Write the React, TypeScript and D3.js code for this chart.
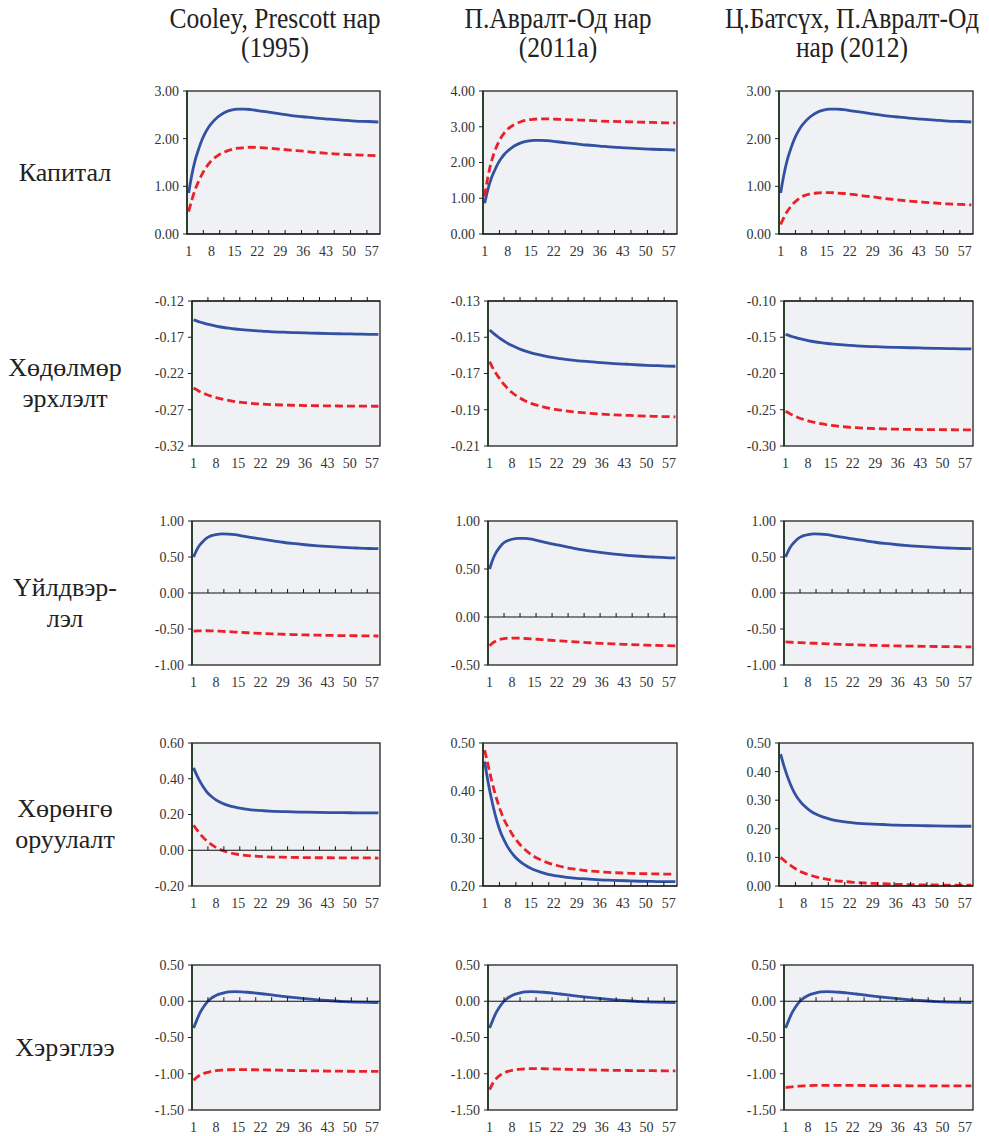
import React from "react";
import * as d3 from "d3";

const periods = [1, 2, 3, 4, 5, 6, 7, 8, 10, 12, 14, 16, 18, 20, 23, 26, 29, 32, 36, 40, 44, 48, 52, 56, 59];
const xLabels = [1, 8, 15, 22, 29, 36, 43, 50, 57];
const nPeriods = 59;

const columnTitles = [
  ["Cooley, Prescott нар", "(1995)"],
  ["П.Авралт-Од нар", "(2011а)"],
  ["Ц.Батсүх, П.Авралт-Од", "нар (2012)"],
];
const rowTitles = [["Капитал"], ["Хөдөлмөр", "эрхлэлт"], ["Үйлдвэр-", "лэл"], ["Хөрөнгө", "оруулалт"], ["Хэрэглээ"]];

// blue (shared reference) series per row
const blueCapital = [0.86, 1.25, 1.55, 1.77, 1.96, 2.11, 2.23, 2.32, 2.46, 2.55, 2.6, 2.62, 2.62, 2.61, 2.58, 2.55, 2.52, 2.49, 2.46, 2.43, 2.41, 2.39, 2.37, 2.36, 2.35];
const blueLabor = [-0.146, -0.1475, -0.149, -0.1503, -0.1515, -0.1527, -0.1537, -0.1546, -0.1562, -0.1575, -0.1586, -0.1595, -0.1603, -0.161, -0.1618, -0.1625, -0.163, -0.1635, -0.164, -0.1645, -0.1649, -0.1653, -0.1656, -0.1659, -0.166];
const blueOutput = [0.5, 0.6, 0.67, 0.72, 0.76, 0.785, 0.8, 0.81, 0.82, 0.818, 0.81, 0.795, 0.78, 0.765, 0.745, 0.725, 0.705, 0.688, 0.67, 0.655, 0.643, 0.633, 0.625, 0.618, 0.615];
const blueInvest = [0.461, 0.42, 0.385, 0.355, 0.33, 0.31, 0.295, 0.282, 0.263, 0.25, 0.241, 0.234, 0.229, 0.225, 0.221, 0.218, 0.216, 0.215, 0.213, 0.212, 0.211, 0.21, 0.2095, 0.209, 0.209];
const blueConsume = [-0.37, -0.26, -0.16, -0.085, -0.025, 0.02, 0.055, 0.08, 0.11, 0.128, 0.133, 0.13, 0.124, 0.115, 0.1, 0.084, 0.068, 0.053, 0.035, 0.02, 0.007, -0.004, -0.011, -0.016, -0.019];

// red series per panel
const redCapital1 = [0.47, 0.72, 0.93, 1.1, 1.24, 1.36, 1.46, 1.54, 1.65, 1.72, 1.77, 1.8, 1.81, 1.82, 1.81, 1.8, 1.78, 1.76, 1.74, 1.71, 1.69, 1.67, 1.66, 1.65, 1.64];
const redCapital2 = [1.05, 1.6, 2.0, 2.3, 2.52, 2.7, 2.83, 2.93, 3.06, 3.14, 3.19, 3.21, 3.22, 3.22, 3.21, 3.2, 3.19, 3.18, 3.16, 3.15, 3.14, 3.13, 3.12, 3.11, 3.11];
const redCapital3 = [0.2, 0.35, 0.47, 0.57, 0.65, 0.71, 0.76, 0.8, 0.84, 0.86, 0.87, 0.87, 0.86, 0.85, 0.83, 0.8, 0.78, 0.75, 0.72, 0.69, 0.67, 0.65, 0.63, 0.62, 0.61];
const redLabor1 = [-0.24, -0.2425, -0.245, -0.247, -0.249, -0.2505, -0.252, -0.2533, -0.2555, -0.2572, -0.2587, -0.2598, -0.2607, -0.2615, -0.2623, -0.263, -0.2635, -0.2638, -0.2642, -0.2645, -0.2647, -0.2649, -0.265, -0.2651, -0.2652];
const redLabor2 = [-0.1635, -0.167, -0.17, -0.1725, -0.175, -0.177, -0.179, -0.1805, -0.183, -0.185, -0.1865, -0.1876, -0.1885, -0.1893, -0.1902, -0.1909, -0.1915, -0.1919, -0.1924, -0.1928, -0.1931, -0.1934, -0.1936, -0.1938, -0.1939];
const redLabor3 = [-0.252, -0.2545, -0.257, -0.259, -0.261, -0.2625, -0.264, -0.2653, -0.2675, -0.2693, -0.2708, -0.272, -0.273, -0.2738, -0.2747, -0.2754, -0.276, -0.2764, -0.2768, -0.2771, -0.2773, -0.2775, -0.2776, -0.2777, -0.2778];
const redOutput1 = [-0.53, -0.527, -0.525, -0.524, -0.524, -0.525, -0.526, -0.528, -0.532, -0.537, -0.542, -0.547, -0.552, -0.557, -0.563, -0.568, -0.573, -0.577, -0.582, -0.586, -0.589, -0.592, -0.594, -0.596, -0.597];
const redOutput2 = [-0.3, -0.27, -0.25, -0.236, -0.228, -0.223, -0.221, -0.22, -0.221, -0.224, -0.228, -0.232, -0.237, -0.242, -0.249, -0.256, -0.262, -0.268, -0.275, -0.281, -0.286, -0.291, -0.295, -0.298, -0.3];
const redOutput3 = [-0.68, -0.682, -0.684, -0.686, -0.688, -0.69, -0.692, -0.694, -0.698, -0.702, -0.706, -0.71, -0.713, -0.716, -0.72, -0.724, -0.728, -0.731, -0.735, -0.738, -0.741, -0.743, -0.745, -0.747, -0.748];
const redInvest1 = [0.14, 0.115, 0.092, 0.072, 0.055, 0.04, 0.027, 0.016, -0.001, -0.012, -0.02, -0.026, -0.03, -0.033, -0.036, -0.038, -0.039, -0.04, -0.041, -0.042, -0.042, -0.043, -0.043, -0.043, -0.044];
const redInvest2 = [0.485, 0.455, 0.425, 0.398, 0.375, 0.355, 0.338, 0.325, 0.302, 0.285, 0.272, 0.262, 0.255, 0.249, 0.243, 0.238, 0.235, 0.232, 0.23, 0.228, 0.227, 0.226, 0.2255, 0.225, 0.225];
const redInvest3 = [0.1, 0.09, 0.08, 0.072, 0.064, 0.057, 0.051, 0.046, 0.038, 0.031, 0.026, 0.022, 0.018, 0.016, 0.013, 0.011, 0.009, 0.008, 0.006, 0.005, 0.004, 0.004, 0.003, 0.003, 0.003];
const redConsume1 = [-1.09, -1.05, -1.02, -1.0, -0.985, -0.973, -0.964, -0.957, -0.949, -0.945, -0.943, -0.943, -0.944, -0.945, -0.947, -0.95, -0.952, -0.955, -0.958, -0.961, -0.963, -0.965, -0.966, -0.967, -0.968];
const redConsume2 = [-1.22, -1.13, -1.07, -1.03, -1.0, -0.98, -0.965, -0.953, -0.94, -0.932, -0.93, -0.93, -0.931, -0.933, -0.936, -0.94, -0.943, -0.946, -0.95, -0.953, -0.955, -0.957, -0.958, -0.959, -0.96];
const redConsume3 = [-1.19, -1.185, -1.18, -1.176, -1.172, -1.169, -1.166, -1.164, -1.161, -1.16, -1.159, -1.159, -1.159, -1.16, -1.161, -1.162, -1.163, -1.164, -1.165, -1.166, -1.166, -1.167, -1.167, -1.168, -1.168];

const yTicksCapital = [[0, 1, 2, 3], [0, 1, 2, 3, 4], [0, 1, 2, 3]];
const yTicksLabor = [[-0.32, -0.27, -0.22, -0.17, -0.12], [-0.21, -0.19, -0.17, -0.15, -0.13], [-0.3, -0.25, -0.2, -0.15, -0.1]];
const yTicksOutput = [[-1, -0.5, 0, 0.5, 1], [-0.5, 0, 0.5, 1], [-1, -0.5, 0, 0.5, 1]];
const yTicksInvest = [[-0.2, 0, 0.2, 0.4, 0.6], [0.2, 0.3, 0.4, 0.5], [0, 0.1, 0.2, 0.3, 0.4, 0.5]];
const yTicksConsume = [[-1.5, -1, -0.5, 0, 0.5], [-1.5, -1, -0.5, 0, 0.5], [-1.5, -1, -0.5, 0, 0.5]];

const blueRows = [blueCapital, blueLabor, blueOutput, blueInvest, blueConsume];
const redRows = [
  [redCapital1, redCapital2, redCapital3],
  [redLabor1, redLabor2, redLabor3],
  [redOutput1, redOutput2, redOutput3],
  [redInvest1, redInvest2, redInvest3],
  [redConsume1, redConsume2, redConsume3],
];
const tickRows = [yTicksCapital, yTicksLabor, yTicksOutput, yTicksInvest, yTicksConsume];

// layout
const rowTop = [91, 301, 521, 743, 965];
const rowBottom = [234, 446, 665, 886, 1110];
const colLeft = [187, 483, 779];
const colRight = [380, 677, 973];
const titleCenters = [275, 558, 852];

const FONT = "'Liberation Serif', 'Times New Roman', serif";
const fmt0 = d3.format(".2f");
const fmt = (v: number) => fmt0(v).replace("\u2212", "-");

function Panel({ r, c }: { r: number; c: number }) {
  const ticks = tickRows[r][c];
  const hasNeg = ticks.some((t) => t < 0);
  const left = colLeft[c] + (hasNeg ? 5 : 0);
  const right = colRight[c];
  const top = rowTop[r];
  const bottom = rowBottom[r];
  const cats = d3.range(1, nPeriods + 1);
  const x = d3.scaleBand<number>().domain(cats).range([left, right]).padding(0);
  const bw = x.bandwidth();
  const xc = (p: number) => (x(p) as number) + bw / 2;
  const y = d3.scaleLinear().domain([d3.min(ticks)!, d3.max(ticks)!]).range([bottom, top]);
  const [d0, d1] = y.domain();
  const axisVal = d0 <= 0 && d1 >= 0 ? 0 : d1 < 0 ? d1 : d0;
  const axisY = y(axisVal);
  const line = d3
    .line<number>()
    .x((_, i) => xc(periods[i]))
    .y((v) => y(v))
    .curve(d3.curveMonotoneX);
  const tickBoundaries = d3.range(5, nPeriods, 5);
  return (
    <g>
      <rect x={left} y={top} width={right - left} height={bottom - top} fill="#eff1f4" />
      <path d={line(blueRows[r]) || ""} fill="none" stroke="#3351a3" strokeWidth={2.8} />
      <path d={line(redRows[r][c]) || ""} fill="none" stroke="#ea2128" strokeWidth={2.8} strokeDasharray="8,4" />
      <rect x={left} y={top} width={right - left} height={bottom - top} fill="none" stroke="#222" strokeWidth={1.3} />
      <line x1={left} x2={left} y1={top} y2={bottom} stroke="#1c361c" strokeWidth={1.6} />
      <line x1={left} x2={right} y1={axisY} y2={axisY} stroke="#111" strokeWidth={1.2} />
      {tickBoundaries.map((k) => {
        const tx = (x(k) as number) + bw;
        return <line key={k} x1={tx} x2={tx} y1={axisY} y2={axisY - 4} stroke="#111" strokeWidth={1} />;
      })}
      {ticks.map((t) => (
        <g key={t}>
          <line x1={left - 4} x2={left} y1={y(t)} y2={y(t)} stroke="#222" strokeWidth={1} />
          <text x={left - 8} y={y(t)} dy="0.35em" textAnchor="end" fontSize={14} fontFamily={FONT} fill="#333">
            {fmt(t)}
          </text>
        </g>
      ))}
      {xLabels.map((p) => (
        <text key={p} x={xc(p)} y={bottom + 22} textAnchor="middle" fontSize={14} fontFamily={FONT} fill="#333">
          {p}
        </text>
      ))}
    </g>
  );
}

export default function App() {
  return (
    <svg
      width={989}
      height={1136}
      style={{ position: "absolute", left: 0, top: 0, background: "#fff" }}
      fontFamily={FONT}
    >
      <rect width={989} height={1136} fill="#fff" />
      {columnTitles.map((lines, c) =>
        lines.map((t, i) => (
          <text
            key={c + "-" + i}
            transform={`translate(${titleCenters[c]},${28 + i * 29}) scale(0.88,1)`}
            textAnchor="middle"
            fontSize={29}
            fill="#222"
          >
            {t}
          </text>
        ))
      )}
      {rowTitles.map((lines, r) => {
        const mid = (rowTop[r] + rowBottom[r]) / 2 + 18;
        const n = lines.length;
        return lines.map((t, i) => (
          <text
            key={r + "-" + i}
            x={65}
            y={mid + (i - (n - 1) / 2) * 31}
            textAnchor="middle"
            fontSize={26}
            fill="#222"
          >
            {t}
          </text>
        ));
      })}
      {rowTop.map((_, r) => [0, 1, 2].map((c) => <Panel key={r + "-" + c} r={r} c={c} />))}
    </svg>
  );
}
